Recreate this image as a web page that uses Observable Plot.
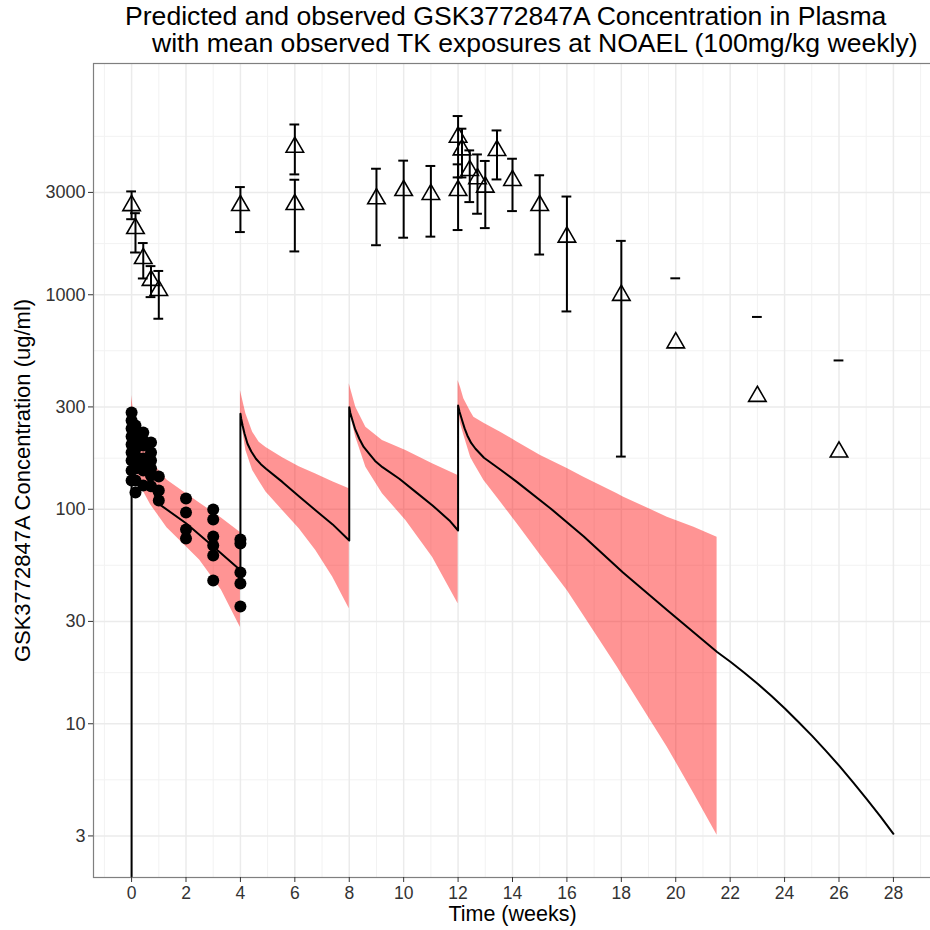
<!DOCTYPE html>
<html><head><meta charset="utf-8">
<script src="https://cdn.jsdelivr.net/npm/d3@7"></script>
<script src="https://cdn.jsdelivr.net/npm/@observablehq/plot@0.6"></script>
<style>
body{margin:0;background:#fff;font-family:"Liberation Sans",Arial,sans-serif;}
#wrap{position:relative;width:930px;height:930px;overflow:hidden;background:#fff;}
#title div{position:absolute;white-space:nowrap;line-height:1;font-size:26.6px;color:#000;}
#chart{position:absolute;left:0;top:58px;}
</style></head><body>
<div id="wrap">
  <div id="title">
    <div style="left:125px;top:3px">Predicted and observed GSK3772847A Concentration in Plasma</div>
    <div style="left:152px;top:30px">with mean observed TK exposures at NOAEL (100mg/kg weekly)</div>
  </div>
  <div id="chart"></div>
</div>
<script>
// ---- tick labels / grid breaks ----
const xTicks = [0,2,4,6,8,10,12,14,16,18,20,22,24,26,28];
const xMinor = [-1,1,3,5,7,9,11,13,15,17,19,21,23,25,27,29];
const yTicks = [3,10,30,100,300,1000,3000];
const yMinor = [5.48,17.3,54.8,173,548,1732,5477];

// ---- individual observed concentrations (filled dots) ----
const dotTime = [0,0,0,0,0,0,0,0,0,
  0.143,0.143,0.143,0.143,0.143,0.143,0.143,0.143,0.143,
  0.429,0.429,0.429,0.429,0.429,0.429,0.429,
  0.714,0.714,0.714,0.714,0.714,0.714,
  1,1,1,
  2,2,2,2,
  3,3,3,3,3,3,
  4,4,4,4,4];
const dotConc = [282.8,259.5,238.2,218.6,200.5,184.0,168.9,151.7,136.2,
  245.9,225.7,209.4,192.1,178.2,165.3,155.0,136.2,119.8,
  228.1,209.4,198.4,172.6,160.1,151.7,129.1,
  204.8,184.0,168.9,155.0,143.8,128.0,
  142.2,122.4,109.9,
  112.3,96.7,80.5,73.1,
  99.8,89.7,74.7,67.8,60.9,46.6,
  72.3,69.3,50.7,45.1,35.2];

// ---- mean observed TK exposures (triangles with error bars) ----
const tkTime = [0,0.143,0.429,0.714,1,4,6,6,9,10,11,12,12,12.143,12.429,12.714,13,13.43,14,15,16,18,20,23,26];
const tkMean = [2606,2037,1476,1167,1048,2608,4877,2636,2803,3064,2937,3064,5430,4740,3800,3477,3177,4710,3413,2608,1858,994,597,336,185];
const tkLow  = [2250,1574,1191,975,773,1960,3640,1592,1702,1845,1866,2003,3524,3524,2704,2386,2045,3448,2455,1540,836,176,null,null,null];
const tkHigh = [3032,2400,1742,1360,1291,3177,6220,3437,3868,4219,3985,4055,6810,5945,4710,4510,4205,5835,4306,3606,2870,1783,1193,788,494];

// ---- predicted median concentration (line) ----
const predTime = [0,0,0.08,0.26,0.57,1,2,3,4,
  4,4.03,4.08,4.15,4.26,4.4,4.57,4.75,4.94,5.55,6.16,6.77,7.39,8,
  8,8.04,8.12,8.22,8.37,8.53,8.73,8.95,9.22,9.84,10.45,11.06,11.68,12,
  12,12.05,12.15,12.24,12.34,12.48,12.64,12.95,13.56,14.17,15.4,16.62,18.06,19.69,21.52,
  22.02,22.52,23.02,23.52,24.02,24.52,25.02,25.52,26.02,26.52,27.02,27.52,28];
const predConc = [1,283,240,185,140,106,86,67,51.9,
  278.8,263.7,245.9,225.7,202.0,186.0,172.0,162.2,154.5,133.8,114.8,98.7,85.0,71.5,
  299.3,281.2,259.5,235.6,213.2,195.2,181.5,168.0,157.1,138.8,120.2,104.2,88.7,79.6,
  304.8,285.8,259.5,238.2,220.9,203.8,191.5,173.9,152.9,133.8,100.9,74.7,50.7,33.8,21.6,
  19.40,17.29,15.32,13.47,11.75,10.17,8.755,7.475,6.344,5.333,4.457,3.702,3.07];

// ---- predicted interval (ribbon), one piece per dosing cycle ----
const bandCycle = [1,1,1,1,1,1,1,1,1,1,
  2,2,2,2,2,2,2,2,2,2,
  3,3,3,3,3,3,3,
  4,4,4,4,4,4,4,4,4,4,4,4,4,4,4,4];
const bandTime = [0,0.1,0.25,0.45,0.7,1.3,2,2.5,3.3,4,
  4,4.2,4.45,4.69,4.94,5.55,6.16,6.77,7.39,8,
  8,8.24,8.61,9.22,10.08,11.06,12,
  12,12.09,12.21,12.46,12.58,12.95,13.56,14.17,15.03,16.01,16.62,17.85,18.09,19.69,20.67,21.52];
const bandHigh = [339,265,225,195,169,137,118.5,107,91,78,
  358.1,278.8,228.8,205.5,194,174,158,146,134.5,124.6,
  384.8,299.3,241.4,209.4,188,163,143.8,
  398.6,370,327.5,285,268.8,252,228.8,206,178.2,155,141.1,118,113.9,91.9,82.5,74.1];
const bandLow = [283,164,140,120,105,82,67,58,42,28.1,
  273.8,188,151.7,135,120.2,98.7,81.1,64.3,48.3,34.4,
  290,216.9,157.1,118,88.7,59.8,36.3,
  300,250.4,222,175,164,136.2,108,85.6,61.1,41.8,31.9,18.4,16.4,7.78,4.72,3.02];

// ---- build tables ----
const dots = dotTime.map((t,i) => ({t, c: dotConc[i]}));
const tk = tkTime.map((t,i) => ({t, mean: tkMean[i], lo: tkLow[i], hi: tkHigh[i]}));
const pred = predTime.map((t,i) => ({t, c: predConc[i]}));
const band = bandTime.map((t,i) => ({t, cycle: bandCycle[i], lo: bandLow[i], hi: bandHigh[i]}));
const capHalf = 0.18;
const tkBars = tk.filter(d => d.lo != null);

const chart = Plot.plot({
  width: 930, height: 872,
  marginLeft: 93, marginRight: -1, marginTop: 5, marginBottom: 53,
  style: {fontFamily: '"Liberation Sans", Arial, sans-serif', fontSize: "18px", background: "white", color: "#333"},
  x: {domain: [-1.4, 29.4], label: null},
  y: {type: "log", domain: [1.92, 11970], label: null},
  marks: [
    Plot.gridX(xMinor, {stroke: "#f2f2f2", strokeOpacity: 1, strokeWidth: 1}),
    Plot.gridY(yMinor, {stroke: "#f2f2f2", strokeOpacity: 1, strokeWidth: 1}),
    Plot.gridX(xTicks, {stroke: "#ebebeb", strokeOpacity: 1, strokeWidth: 1.5}),
    Plot.gridY(yTicks, {stroke: "#ebebeb", strokeOpacity: 1, strokeWidth: 1.5}),
    Plot.areaY(band, {x: "t", y1: "lo", y2: "hi", z: "cycle", fill: "#ff0000", fillOpacity: 0.42}),
    Plot.line(pred, {x: "t", y: "c", stroke: "black", strokeWidth: 2, clip: true}),
    Plot.dot(dots, {x: "t", y: "c", r: 6, fill: "black"}),
    Plot.ruleX(tkBars, {x: "t", y1: "lo", y2: "hi", stroke: "black", strokeWidth: 2}),
    Plot.ruleY(tkBars, {y: "lo", x1: d => d.t - capHalf, x2: d => d.t + capHalf, stroke: "black", strokeWidth: 2}),
    Plot.ruleY(tk, {y: "hi", x1: d => d.t - capHalf, x2: d => d.t + capHalf, stroke: "black", strokeWidth: 2}),
    Plot.dot(tk, {x: "t", y: "mean", symbol: "triangle", r: 6.5, stroke: "black", strokeWidth: 1.6, fill: "none"}),
    Plot.frame({stroke: "#7f7f7f", strokeWidth: 1.2}),
    Plot.axisX(xTicks, {tickSize: 5, tickPadding: 4, stroke: "#333", fill: "#333", label: null, fontSize: 17.5}),
    Plot.axisY(yTicks, {tickSize: 5, tickPadding: 3, stroke: "#333", fill: "#333", label: null, tickFormat: d => String(d), fontSize: 18}),
    Plot.text(["Time (weeks)"], {frameAnchor: "bottom", dy: 43, fontSize: 21.5, fill: "black"}),
    Plot.text(["GSK3772847A Concentration (ug/ml)"], {frameAnchor: "left", dx: -71, dy: 10, rotate: -90, textAnchor: "middle", fontSize: 22, fill: "black"})
  ]
});
document.getElementById("chart").appendChild(chart);
</script>
</body></html>
